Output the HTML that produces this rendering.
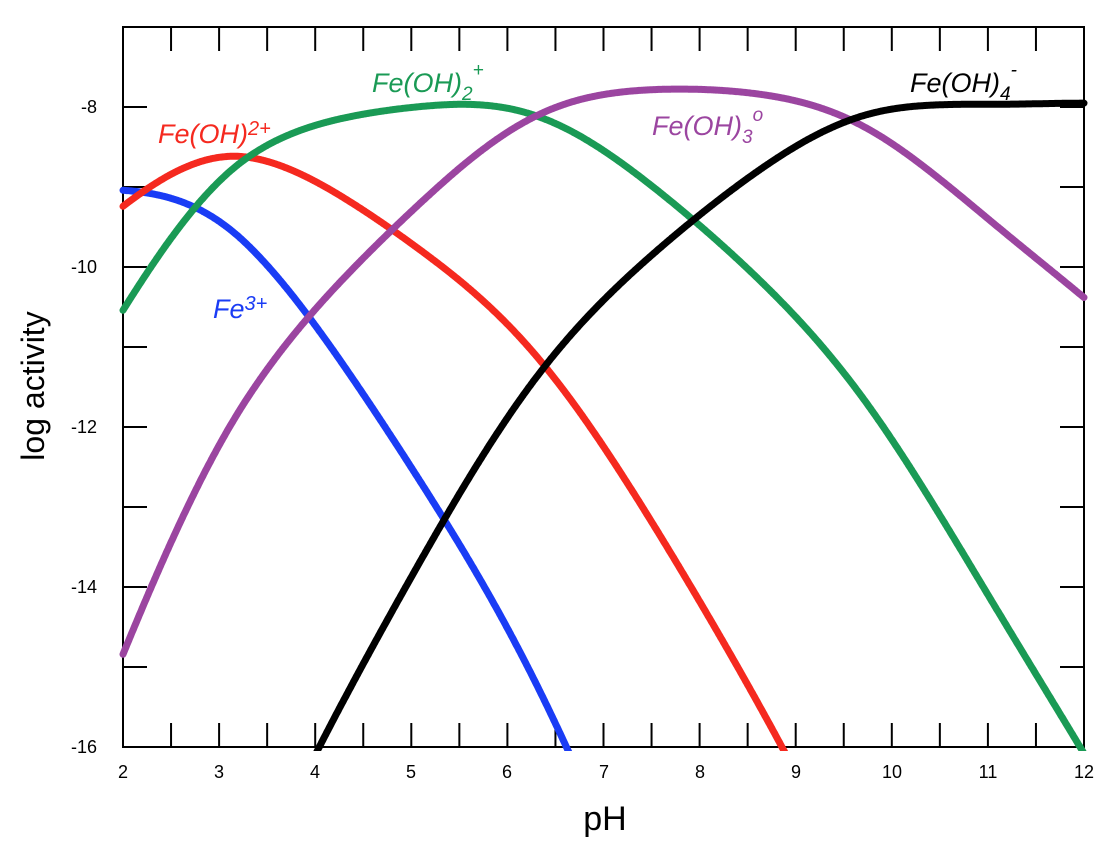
<!DOCTYPE html>
<html><head><meta charset="utf-8"><style>
html,body{margin:0;padding:0;background:#fff;overflow:hidden}
svg{display:block}
svg text{font-family:"Liberation Sans",sans-serif}
.lab{font-style:italic;font-size:27px}
</style></head><body>
<svg id="s" width="1110" height="844" xmlns="http://www.w3.org/2000/svg">
<defs><clipPath id="cp"><rect x="118" y="27" width="971" height="724"/></clipPath></defs>
<rect x="123" y="27" width="961" height="720" fill="none" stroke="#000" stroke-width="2"/>
<g id="ticks" stroke="#000" stroke-width="2"></g>
<g font-size="18" text-anchor="end">
<text x="97" y="113">-8</text><text x="97" y="273">-10</text><text x="97" y="433">-12</text><text x="97" y="593">-14</text><text x="97" y="753">-16</text>
</g>
<g font-size="18" text-anchor="middle">
<text x="123" y="778">2</text><text x="219" y="778">3</text><text x="315" y="778">4</text><text x="411" y="778">5</text><text x="507" y="778">6</text><text x="604" y="778">7</text><text x="700" y="778">8</text><text x="796" y="778">9</text><text x="892" y="778">10</text><text x="988" y="778">11</text><text x="1084" y="778">12</text>
</g>
<text x="605" y="830" font-size="34" text-anchor="middle">pH</text>
<text transform="translate(44,386) rotate(-90)" font-size="32" text-anchor="middle">log activity</text>
<g id="curves" fill="none" stroke-width="7" stroke-linecap="round" stroke-linejoin="round" clip-path="url(#cp)"></g>
<text class="lab" x="372" y="92" fill="#1a9a55">Fe(OH)<tspan font-size="19" dy="8">2</tspan><tspan font-size="19" dy="-24">+</tspan></text>
<text class="lab" x="158" y="143" fill="#f5291f">Fe(OH)<tspan font-size="20" dy="-8">2+</tspan></text>
<text class="lab" x="213" y="318" fill="#1a3cf5">Fe<tspan font-size="20" dy="-8">3+</tspan></text>
<text class="lab" x="652" y="135" fill="#9b45a0">Fe(OH)<tspan font-size="19" dy="8">3</tspan><tspan font-size="19" dy="-22">o</tspan></text>
<text class="lab" x="910" y="92" fill="#000">Fe(OH)<tspan font-size="19" dy="8">4</tspan><tspan font-size="19" dy="-24">-</tspan></text>
</svg>
<script>
var NS="http://www.w3.org/2000/svg",t=document.getElementById("ticks"),s="";
for(var i=1;i<20;i++){var x=123+i*48.05;s+='<line x1="'+x+'" y1="747" x2="'+x+'" y2="723"/><line x1="'+x+'" y1="27" x2="'+x+'" y2="51"/>';}
for(var j=1;j<9;j++){var y=27+j*80;s+='<line x1="123" y1="'+y+'" x2="147" y2="'+y+'"/><line x1="1084" y1="'+y+'" x2="1060" y2="'+y+'"/>';}
t.innerHTML=s;
var K=[[0,-9.4],[2,-8.82],[3.3,-8.31],[5.3,-7.93],[6.7,-7.78],[8,-7.76],[9.57,-7.86],[11,-7.95],[12,-7.95],[14,-7.95]];
function FeT(p){for(var i=1;i<K.length-2;i++){if(p<=K[i+1][0])break;}
var a=K[i-1],b=K[i],c=K[i+1],e=K[i+2]||c,u=(p-b[0])/(c[0]-b[0]),h=c[0]-b[0];
var m1=(c[1]-a[1])/(c[0]-a[0])*h,m2=(e[1]-b[1])/(e[0]-b[0])*h;
var u2=u*u,u3=u2*u;return (2*u3-3*u2+1)*b[1]+(u3-2*u2+u)*m1+(-2*u3+3*u2)*c[1]+(u3-u2)*m2;}
function R(p){return [0,p-2.2,2*p-5.5,3*p-11.8,4*p-21.37];}
function act(p,k){var r=R(p),sm=0;for(var i=0;i<5;i++)sm+=Math.pow(10,r[i]);return FeT(p)-Math.log10(sm)+r[k];}
var cols=["#1a3cf5","#f5291f","#1a9a55","#9b45a0","#000"],g=document.getElementById("curves");
for(var k=0;k<5;k++){var pts=[];for(var p=2;p<=12.0001;p+=0.01){var v=act(p,k);pts.push([123+(p-2)*96.1,107+(-8-v)*80]);}
var d="",started=false;for(var q=0;q<pts.length;q++){var P=pts[q];if(P[1]>760){if(started){d+=" L"+P[0].toFixed(1)+","+P[1].toFixed(1);started=false;}else if(pts[q+1]&&pts[q+1][1]<=760){d+=" M"+P[0].toFixed(1)+","+P[1].toFixed(1);started=true;}continue;}
d+=(started?" L":" M")+P[0].toFixed(1)+","+P[1].toFixed(1);started=true;}
var e=document.createElementNS(NS,"path");e.setAttribute("d",d);e.setAttribute("stroke",cols[k]);g.appendChild(e);}
</script>
</body></html>
